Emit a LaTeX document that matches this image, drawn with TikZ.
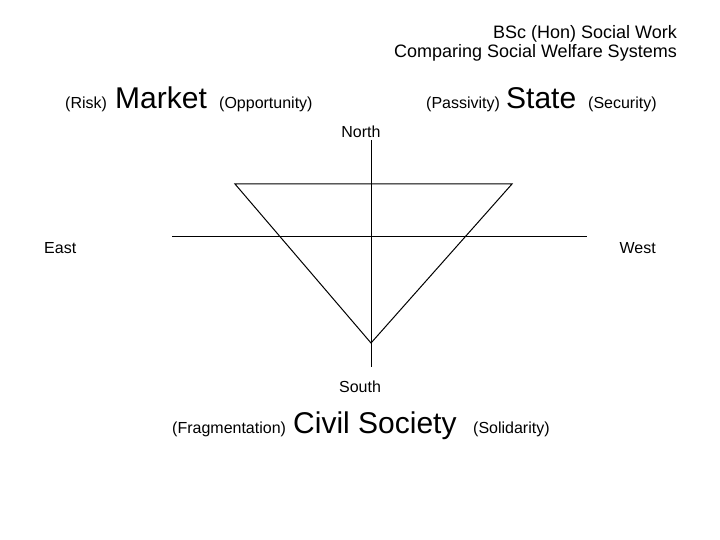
\documentclass[tikz,border=0pt]{standalone}
\usepackage{fontspec}
\setmainfont{Liberation Sans}
\usetikzlibrary{calc}
\tikzset{
	word/.style={inner sep=0pt, font=\fontsize{16}{19}\selectfont},
	big/.style={inner sep=0pt, font=\fontsize{30}{35}\selectfont},
	heading/.style={inner sep=0pt, font=\fontsize{18}{21}\selectfont},
	axis/.style={line width=1pt},
}

\begin{document}
\begin{tikzpicture}[x=1pt, y=-1pt]
			%%%%% START %%%%%
			\useasboundingbox (0, 0) rectangle (720, 540);
			
			\node[heading, anchor=base east] (title1) at (677, 38.5) {BSc (Hon) Social Work};
			\node[heading, anchor=base east] (title2) at (677, 57.5) {Comparing Social Welfare Systems};
			
			\node[word, anchor=base west] (risk) at (65, 109) {(Risk)};
			\node[big, anchor=base west] (market) at (115, 109) {Market};
			\node[word, anchor=base west] (opportunity) at (219, 109) {(Opportunity)};
			
			\node[word, anchor=base west] (passivity) at (426, 109) {(Passivity)};
			\node[big, anchor=base west] (state) at (506, 109) {State};
			\node[word, anchor=base west] (security) at (588, 109) {(Security)};
			
			\node[word, anchor=base] (north) at (361, 138) {North};
			\node[word, anchor=base west] (east) at (44, 254) {East};
			\node[word, anchor=base east] (west) at (656, 254) {West};
			\node[word, anchor=base] (south) at (360, 392) {South};
			
			\node[word, anchor=base west] (fragmentation) at (172, 433) {(Fragmentation)};
			\node[big, anchor=base west] (civil) at (293, 433) {Civil Society};
			\node[word, anchor=base west] (solidarity) at (473, 433) {(Solidarity)};
			
			\coordinate (top) at (371, 140);
			\coordinate (bottom) at (371, 367);
			\coordinate (left) at (172, 236);
			\coordinate (right) at (587, 236);
			
			\coordinate (tl) at (235, 184);
			\coordinate (tr) at (512, 184);
			\coordinate (tip) at (371, 343);
			
			\draw[axis] (top) -- (bottom);
			\draw[axis] (left) -- (right);
			\draw[axis] (tl) -- (tr) -- (tip) -- cycle;
			
			%%%%% END %%%%%
		\end{tikzpicture}
\end{document}
